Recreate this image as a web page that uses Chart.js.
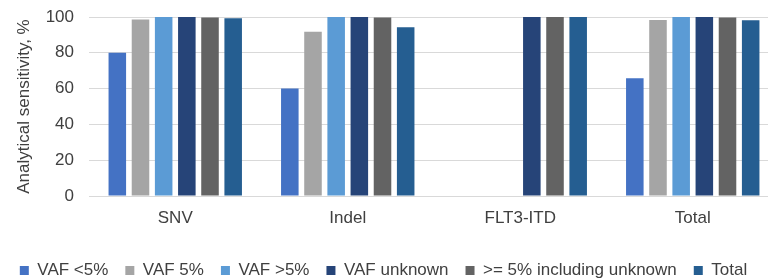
<!DOCTYPE html>
<html>
<head>
<meta charset="utf-8">
<script src="https://cdn.jsdelivr.net/npm/chart.js@4/dist/chart.umd.min.js"></script>
<style>
    html, body { margin: 0; padding: 0; background: #fff; overflow: hidden; }
    #wrap { width: 780px; height: 289px; position: relative; }
</style>
</head>
<body>
<div id="wrap"><canvas id="chart"></canvas></div>
<script>
const categories = ['SNV', 'Indel', 'FLT3-ITD', 'Total'];

const seriesNames = ['VAF <5%', 'VAF 5%', 'VAF >5%', 'VAF unknown', '>= 5% including unknown', 'Total'];

const vafBelow5 = [80, 60, null, 65.8];
const vaf5 = [98.6, 91.8, null, 98.3];
const vafAbove5 = [100, 100, null, 100];
const vafUnknown = [100, 100, 100, 100];
const atLeast5InclUnknown = [99.7, 99.7, 100, 99.7];
const totalValues = [99.3, 94.3, 100, 98.2];

const yTicks = [0, 20, 40, 60, 80, 100];

const seriesColors = ['#4472C4', '#A5A5A5', '#5B9BD5', '#264478', '#636363', '#255E91'];

const seriesData = [vafBelow5, vaf5, vafAbove5, vafUnknown, atLeast5InclUnknown, totalValues];

const FONT = 'Liberation Sans, Arial, sans-serif';
const TEXT = '#404040';

// nudge the legend a few px left, the plot runs past the right edge
const legendShift = {
    id: 'legendShift',
    afterLayout(chart) {
        if (chart.legend) {
            chart.legend.left -= 6;
            chart.legend.right -= 6;
        }
    }
};

const ctx = document.getElementById('chart').getContext('2d');

new Chart(ctx, {
    type: 'bar',
    data: {
        labels: categories,
        datasets: seriesData.map((values, i) => ({
            label: seriesNames[i],
            data: values,
            backgroundColor: seriesColors[i],
            borderWidth: 0,
            categoryPercentage: 0.806,
            barPercentage: 0.757
        }))
    },
    options: {
        responsive: true,
        maintainAspectRatio: false,
        animation: false,
        layout: {
            padding: { top: 17, right: 1, left: 0, bottom: 0 }
        },
        scales: {
            y: {
                min: 0,
                max: 100,
                afterBuildTicks: axis => {
                    axis.ticks = yTicks.map(v => ({ value: v }));
                },
                afterFit: axis => {
                    axis.width = 89;
                    axis.paddingTop = 0;
                    axis.paddingBottom = 0;
                },
                grid: { color: '#d9d9d9', drawTicks: false, lineWidth: 1 },
                border: { display: false },
                ticks: {
                    font: { family: FONT, size: 17 },
                    color: TEXT,
                    padding: 15
                },
                title: {
                    display: true,
                    text: 'Analytical sensitivity, %',
                    font: { family: FONT, size: 17 },
                    color: TEXT,
                    padding: { top: 14, bottom: 0 }
                }
            },
            x: {
                afterFit: axis => {
                    axis.height = 49;
                },
                grid: { display: false, drawTicks: false },
                border: { display: true, color: '#d9d9d9' },
                ticks: {
                    font: { family: FONT, size: 17 },
                    color: TEXT,
                    padding: 12
                }
            }
        },
        plugins: {
            legend: {
                position: 'bottom',
                labels: {
                    font: { family: FONT, size: 17 },
                    color: TEXT,
                    boxWidth: 9,
                    boxHeight: 9,
                    padding: 17,
                    useBorderRadius: false
                }
            },
            tooltip: { enabled: false }
        }
    },
    plugins: [legendShift]
});
</script>
</body>
</html>
